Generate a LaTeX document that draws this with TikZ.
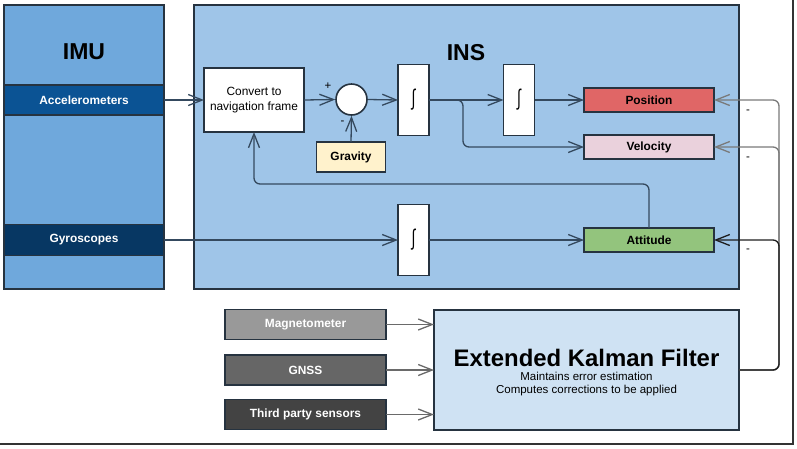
\documentclass[tikz,border=0pt]{standalone}
\usepackage{fontspec}
\setmainfont{Liberation Sans}
\usetikzlibrary{arrows.meta}
\definecolor{boxline}{HTML}{263340}
\definecolor{flowline}{HTML}{34495E}
\definecolor{imufill}{HTML}{6FA8DC}
\definecolor{accfill}{HTML}{0B5394}
\definecolor{gyrofill}{HTML}{073763}
\definecolor{insfill}{HTML}{9FC5E8}
\definecolor{gravfill}{HTML}{FFF2CC}
\definecolor{posfill}{HTML}{E06666}
\definecolor{velfill}{HTML}{EAD1DC}
\definecolor{attfill}{HTML}{93C47D}
\definecolor{magfill}{HTML}{999999}
\definecolor{gnssfill}{HTML}{666666}
\definecolor{thirdfill}{HTML}{434343}
\definecolor{ekffill}{HTML}{CFE2F3}
\definecolor{sensorline}{HTML}{6A6A6A}
\definecolor{fbgray}{HTML}{7A7A7A}
\definecolor{fbdark}{HTML}{1E1E1E}
\definecolor{framecol}{HTML}{333333}

\begin{document}
\begin{tikzpicture}[x=1pt,y=-1pt,
    box/.style={draw=boxline,line width=1.6pt,inner sep=0pt,outer sep=0pt,align=center},
    label/.style={font=\fontsize{11.9}{13}\selectfont\bfseries},
    band/.style={box,label,minimum width=160pt,text=white},
    state/.style={box,label,minimum width=130pt,minimum height=24pt},
    intbox/.style={box,fill=white,minimum width=31pt,minimum height=71pt,font=\fontsize{14}{16}\selectfont},
    sensor/.style={box,label,minimum width=161pt,minimum height=30pt,text=white},
    title/.style={font=\fontsize{23}{26}\selectfont\bfseries},
    flow/.style={draw=flowline,line width=1.3pt,-{Straight Barb[length=14pt,width=11pt]}},
    fb/.style={flow,rounded corners=6pt}]
  \useasboundingbox (0,0) rectangle (797,448);

  % IMU
  \node[box,fill=imufill,minimum width=160pt,minimum height=284pt] (imu) at (84,147) {};
  \node[title] (imutitle) at (84,52) {IMU};
  \node[band,fill=accfill,minimum height=30pt] (acc) at (84,100) {Accelerometers};
  \node[band,fill=gyrofill,minimum height=31pt] (gyro) at (84,240) {Gyroscopes};

  % INS
  \node[box,fill=insfill,minimum width=545pt,minimum height=284pt] (ins) at (466.5,147) {};
  \node[title] (institle) at (466,53) {INS};
  \node[box,fill=white,minimum width=100pt,minimum height=64pt,font=\fontsize{11.9}{14.3}\selectfont] (conv) at (254,100) {Convert to\\navigation frame};
  \node[circle,draw=boxline,line width=1.6pt,fill=white,minimum size=31pt,inner sep=0pt] (sum) at (351.5,99.5) {};
  \node[font=\fontsize{11.5}{13}\selectfont] (plus) at (328,86) {+};
  \node[font=\fontsize{11.5}{13}\selectfont] (minus) at (342.5,123) {-};
  \node[box,label,fill=gravfill,minimum width=69pt,minimum height=30pt] (grav) at (351,157) {Gravity};
  \node[intbox] (int1) at (413.5,100) {\scalebox{1}[1.6]{∫}};
  \node[intbox] (int2) at (519,100) {\scalebox{1}[1.6]{∫}};
  \node[intbox] (int3) at (413.5,240) {\scalebox{1}[1.6]{∫}};
  \node[state,fill=posfill] (pos) at (649,100) {Position};
  \node[state,fill=velfill] (vel) at (649,147) {Velocity};
  \node[state,fill=attfill] (att) at (649,240) {Attitude};

  % aiding sensors and filter
  \node[sensor,fill=magfill] (mag) at (305.5,324.5) {Magnetometer};
  \node[sensor,fill=gnssfill] (gnss) at (305.5,370) {GNSS};
  \node[sensor,fill=thirdfill] (third) at (305.5,414.5) {Third party sensors};
  \node[box,fill=ekffill,minimum width=305pt,minimum height=120pt] (ekf) at (586.5,370) {};
  \node[font=\fontsize{23.9}{26}\selectfont\bfseries] (ekftitle) at (586.5,358) {Extended Kalman Filter};
  \node[font=\fontsize{11.5}{13.5}\selectfont,align=center] (ekfnote) at (586.5,384) {Maintains error estimation\\Computes corrections to be applied};

  % signal flow
  \draw[flow] (acc.east) -- (acc.east -| conv.west);
  \draw[flow] (conv.east) -- (sum.west);
  \draw[flow] (grav.north) -- (sum.south);
  \draw[flow] (sum.east) -- (int1.west);
  \draw[flow] (int1.east) -- (int2.west);
  \draw[fb] (int1.east) -- ++(34,0) |- (vel.west);
  \draw[flow] (int2.east) -- (pos.west);
  \draw[flow] (gyro.east) -- (gyro.east -| int3.west);
  \draw[flow] (int3.east) -- (att.west);
  \draw[fb] (att.north) -- ++(0,-44) -| (conv.south);

  \draw[flow,draw=sensorline] (mag.east) -- (mag.east -| ekf.west);
  \draw[flow,draw=sensorline] (gnss.east) -- (gnss.east -| ekf.west);
  \draw[flow,draw=sensorline] (third.east) -- (third.east -| ekf.west);

  % corrections
  \coordinate (fbcorner) at (779,370);
  \draw[fb,draw=fbgray] (ekf.east) -- (fbcorner) |- (pos.east);
  \draw[fb,draw=fbgray] (ekf.east) -- (fbcorner) |- (vel.east);
  \draw[fb,draw=fbdark] (ekf.east) -- (fbcorner) |- (att.east);
  \node[font=\fontsize{11.5}{13}\selectfont] (poscorr) at (748,112) {-};
  \node[font=\fontsize{11.5}{13}\selectfont] (velcorr) at (748,159) {-};
  \node[font=\fontsize{11.5}{13}\selectfont] (attcorr) at (748,251) {-};

  \draw[line width=2.5pt,draw=framecol] (0,444) -- (793,444) -- (793,0);
\end{tikzpicture}
\end{document}
